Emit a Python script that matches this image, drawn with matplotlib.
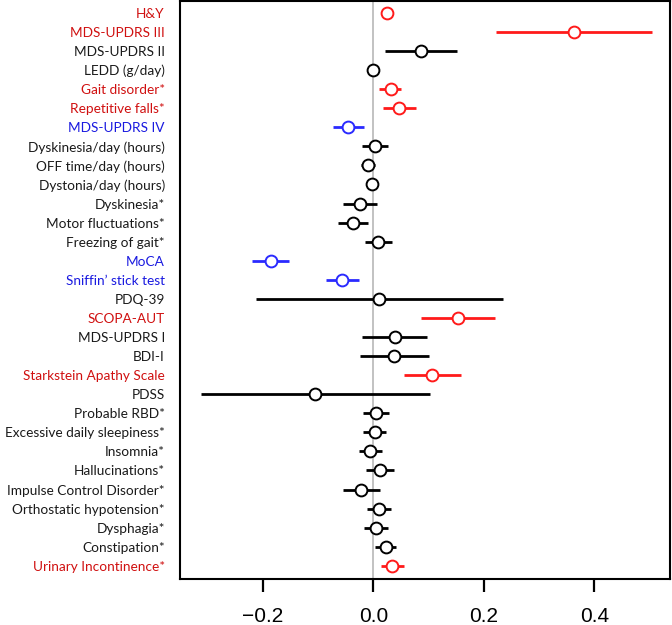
import matplotlib
matplotlib.use("Agg")
import matplotlib.pyplot as plt

# variables, top to bottom
labels = ["H&Y", "MDS-UPDRS III", "MDS-UPDRS II", "LEDD (g/day)", "Gait disorder*",
          "Repetitive falls*", "MDS-UPDRS IV", "Dyskinesia/day (hours)", "OFF time/day (hours)",
          "Dystonia/day (hours)", "Dyskinesia*", "Motor fluctuations*", "Freezing of gait*",
          "MoCA", "Sniffin\u2019 stick test", "PDQ-39", "SCOPA-AUT", "MDS-UPDRS I", "BDI-I",
          "Starkstein Apathy Scale", "PDSS", "Probable RBD*", "Excessive daily sleepiness*",
          "Insomnia*", "Hallucinations*", "Impulse Control Disorder*", "Orthostatic hypotension*",
          "Dysphagia*", "Constipation*", "Urinary Incontinence*"]
est = [0.025, 0.363, 0.087, 0.0, 0.031, 0.047, -0.046, 0.002, -0.010, -0.003,
       -0.025, -0.037, 0.009, -0.186, -0.056, 0.011, 0.154, 0.039, 0.038, 0.107,
       -0.105, 0.005, 0.002, -0.006, 0.012, -0.022, 0.010, 0.005, 0.022, 0.034]
lo = [0.021, 0.222, 0.021, -0.002, 0.011, 0.018, -0.073, -0.021, -0.023, -0.005,
      -0.055, -0.064, -0.015, -0.220, -0.086, -0.212, 0.086, -0.021, -0.025, 0.056,
      -0.312, -0.019, -0.018, -0.026, -0.013, -0.055, -0.011, -0.017, 0.002, 0.013]
hi = [0.029, 0.504, 0.152, 0.002, 0.050, 0.077, -0.017, 0.027, 0.003, -0.001,
      0.006, -0.009, 0.033, -0.152, -0.026, 0.235, 0.220, 0.097, 0.100, 0.158,
      0.103, 0.028, 0.022, 0.016, 0.038, 0.012, 0.031, 0.027, 0.041, 0.055]
group = ["r", "r", "k", "k", "r", "r", "b", "k", "k", "k", "k", "k", "k", "b", "b",
         "k", "r", "k", "k", "r", "k", "k", "k", "k", "k", "k", "k", "k", "k", "r"]

mark_col = {"r": "#ff1a1a", "b": "#2a2aff", "k": "black"}
text_col = {"r": "#d01010", "b": "#1a1ae0", "k": "#1a1a1a"}

fig = plt.figure(figsize=(6.72, 6.25), dpi=100)
ax = fig.add_axes([0.268, 0.074, 0.729, 0.924])

ax.axvline(0, color="#b8b8b8", lw=1.2, zorder=0)
for i in range(len(labels)):
    c = mark_col[group[i]]
    ax.plot([lo[i], hi[i]], [i, i], color=c, lw=2, solid_capstyle="butt")
    ax.plot(est[i], i, "o", mfc="white", mec=c, ms=8.5, mew=1.4)

ax.set_xlim(-0.35, 0.537)
ax.set_ylim(len(labels) - 0.32, -0.61)
ax.set_xticks([-0.2, 0.0, 0.2, 0.4])
ax.set_xticklabels(["\u22120.2", "0.0", "0.2", "0.4"], fontsize=15, family="Liberation Sans")
ax.tick_params(axis="x", length=9, width=1.6, pad=11, direction="out")
ax.set_yticks(range(len(labels)))
ax.set_yticklabels(labels, fontsize=9.8, family="Lato")
ax.tick_params(axis="y", length=0, pad=11)
for t, g in zip(ax.get_yticklabels(), group):
    t.set_color(text_col[g])
for s in ax.spines.values():
    s.set_linewidth(1.5)

fig.savefig("out.png", dpi=100)
